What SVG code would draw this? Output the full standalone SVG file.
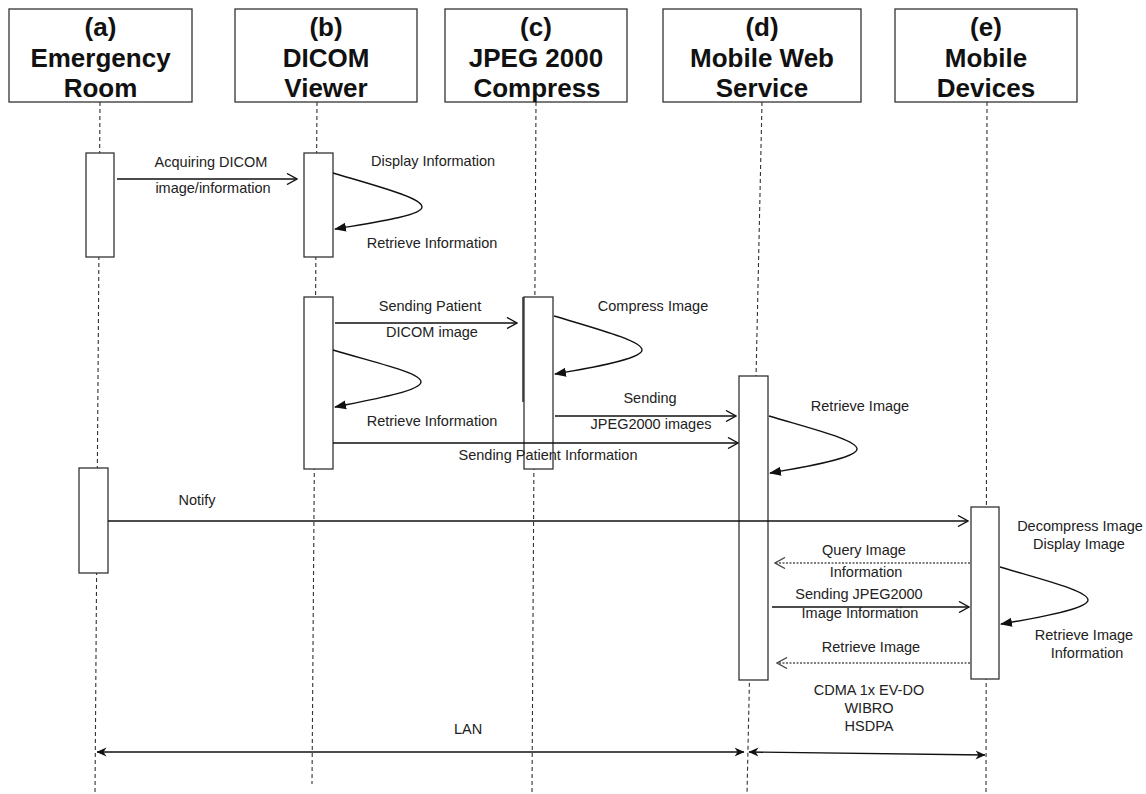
<svg xmlns="http://www.w3.org/2000/svg" width="1146" height="794" viewBox="0 0 1146 794">
<style>
.hdr{fill:#fff;stroke:#333;stroke-width:1.3}
.ht{font-family:"Liberation Sans",Arial,sans-serif;font-weight:bold;font-size:26px;fill:#111;text-anchor:middle}
.life{stroke:#333;stroke-width:1.1;stroke-dasharray:4,3;fill:none}
.act{fill:#fff;stroke:#333;stroke-width:1.3}
.msg{stroke:#111;stroke-width:1.4;fill:none}
.ret{stroke:#555;stroke-width:1.3;stroke-dasharray:2,1.5;fill:none}
.loop{stroke:#111;stroke-width:1.4;fill:none}
.t{font-family:"Liberation Sans",Arial,sans-serif;font-size:14.5px;fill:#222;text-anchor:middle}
</style>
<defs>
<marker id="open" viewBox="0 0 12 12" markerWidth="12" markerHeight="12" refX="11" refY="6" orient="auto" markerUnits="userSpaceOnUse">
<path d="M1,0.5 L11,6 L1,11.5" fill="none" stroke="#111" stroke-width="1.4"/>
</marker>
<marker id="openg" viewBox="0 0 12 12" markerWidth="12" markerHeight="12" refX="11" refY="6" orient="auto" markerUnits="userSpaceOnUse">
<path d="M1,0.5 L11,6 L1,11.5" fill="none" stroke="#444" stroke-width="1.3"/>
</marker>
<marker id="fill" viewBox="0 0 12 10" markerWidth="12" markerHeight="10" refX="11" refY="5" orient="auto" markerUnits="userSpaceOnUse">
<path d="M0,0.5 L12,5 L0,9.5 Z" fill="#111"/>
</marker>
<marker id="cls" viewBox="0 0 10 10" markerWidth="10" markerHeight="10" refX="9.5" refY="5" orient="auto-start-reverse" markerUnits="userSpaceOnUse">
<path d="M0,0.5 L10,5 L0,9.5 L3,5 Z" fill="#111"/>
</marker>
</defs>

<g id="node-a">
<path class="life" d="M100,102 L95,794"/>
<rect class="hdr" x="9" y="9" width="183" height="93"/>
<text class="ht" x="100.5" y="36">(a)</text>
<text class="ht" x="100.5" y="67">Emergency</text>
<text class="ht" x="100.5" y="97">Room</text>
<rect class="act" x="86" y="153" width="28" height="104"/>
<rect class="act" x="79" y="468" width="29" height="105"/>
</g>

<g id="node-b">
<path class="life" d="M317,102 L312,784"/>
<rect class="hdr" x="235" y="9" width="182" height="93"/>
<text class="ht" x="326" y="36">(b)</text>
<text class="ht" x="326" y="67">DICOM</text>
<text class="ht" x="326" y="97">Viewer</text>
<rect class="act" x="304" y="153" width="29" height="104"/>
<rect class="act" x="304" y="297" width="29" height="172"/>
</g>

<g id="node-c">
<path class="life" d="M536,102 L532,794"/>
<rect class="hdr" x="445" y="9" width="182" height="93"/>
<text class="ht" x="536" y="36">(c)</text>
<text class="ht" x="536" y="67">JPEG 2000</text>
<text class="ht" x="537" y="97">Compress</text>
<rect class="act" x="524" y="297" width="29" height="172"/>
<line x1="523" y1="297" x2="523" y2="402" stroke="#222" stroke-width="1.4"/>
</g>

<g id="node-d">
<path class="life" d="M762,102 L747,794"/>
<rect class="hdr" x="663" y="9" width="198" height="93"/>
<text class="ht" x="762" y="36">(d)</text>
<text class="ht" x="762" y="67">Mobile Web</text>
<text class="ht" x="762" y="97">Service</text>
<rect class="act" x="739" y="376" width="29" height="304"/>
</g>

<g id="node-e">
<path class="life" d="M987,102 L986,794"/>
<rect class="hdr" x="895" y="9" width="182" height="93"/>
<text class="ht" x="986" y="36">(e)</text>
<text class="ht" x="986" y="67">Mobile</text>
<text class="ht" x="986" y="97">Devices</text>
<rect class="act" x="971" y="507" width="28" height="172"/>
</g>

<g id="connectors">
<path class="msg" d="M117,179 L297,179" marker-end="url(#open)"/>
<path class="loop" d="M333,173 C380,187 422,198 422,207 C422,216 370,223 335,229" marker-end="url(#fill)"/>
<path class="msg" d="M335,323 L517,323" marker-end="url(#open)"/>
<path class="loop" d="M333,350 C380,364 421,373 421,382 C421,391 370,400 335,407" marker-end="url(#fill)"/>
<path class="loop" d="M554,316 C601,330 642,341 642,350 C642,359 591,368 555,374" marker-end="url(#fill)"/>
<path class="msg" d="M555,416 L736,416" marker-end="url(#open)"/>
<path class="msg" d="M333,443 L738,443" marker-end="url(#open)"/>
<path class="loop" d="M769,416 C816,430 857,440 857,449 C857,458 806,467 770,473" marker-end="url(#fill)"/>
<path class="msg" d="M108,521 L968,521" marker-end="url(#open)"/>
<path class="loop" d="M1000,567 C1047,581 1088,591 1088,600 C1088,609 1037,618 1001,624" marker-end="url(#fill)"/>
<path class="ret" d="M970,563 L775,563" marker-end="url(#openg)"/>
<path class="msg" d="M772,607 L969,607" marker-end="url(#open)"/>
<path class="ret" d="M970,663 L777,663" marker-end="url(#openg)"/>
<path class="msg" d="M97,752 L744,752" marker-start="url(#cls)" marker-end="url(#cls)"/>
<path class="msg" d="M749,752 L985,755" marker-start="url(#cls)" marker-end="url(#cls)"/>

<text class="t" x="211" y="167">Acquiring DICOM</text>
<text class="t" x="213" y="193">image/information</text>
<text class="t" x="433" y="166">Display Information</text>
<text class="t" x="432" y="248">Retrieve Information</text>
<text class="t" x="430" y="311">Sending Patient</text>
<text class="t" x="432" y="337">DICOM image</text>
<text class="t" x="653" y="311">Compress Image</text>
<text class="t" x="432" y="426">Retrieve Information</text>
<text class="t" x="650" y="403">Sending</text>
<text class="t" x="651" y="429">JPEG2000 images</text>
<text class="t" x="548" y="460">Sending Patient Information</text>
<text class="t" x="860" y="411">Retrieve Image</text>
<text class="t" x="197" y="505">Notify</text>
<text class="t" x="1080" y="531">Decompress Image</text>
<text class="t" x="1079" y="549">Display Image</text>
<text class="t" x="864" y="555">Query Image</text>
<text class="t" x="866" y="577">Information</text>
<text class="t" x="859" y="599">Sending JPEG2000</text>
<text class="t" x="860" y="618">Image Information</text>
<text class="t" x="1084" y="640">Retrieve Image</text>
<text class="t" x="1087" y="658">Information</text>
<text class="t" x="871" y="652">Retrieve Image</text>
<text class="t" x="869" y="695">CDMA 1x EV-DO</text>
<text class="t" x="869" y="713">WIBRO</text>
<text class="t" x="869" y="731">HSDPA</text>
<text class="t" x="468" y="734">LAN</text>
</g>
</svg>
